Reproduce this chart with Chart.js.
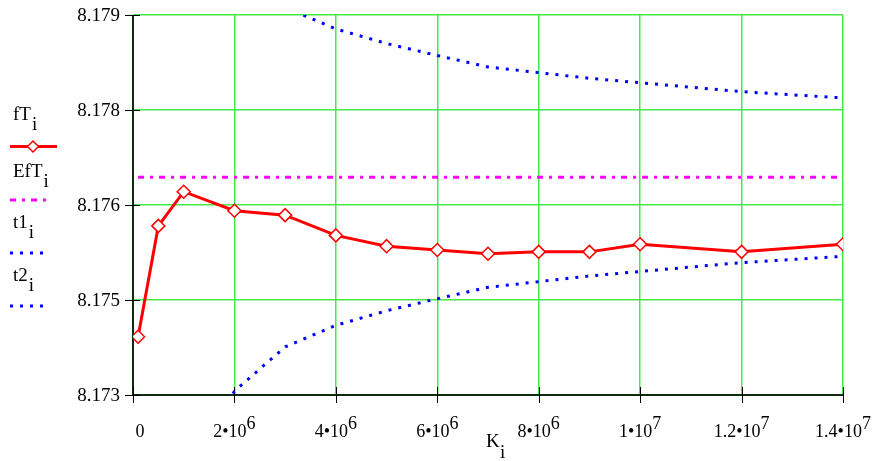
<!DOCTYPE html>
<html>
<head>
<meta charset="utf-8">
<script src="https://cdn.jsdelivr.net/npm/chart.js@4/dist/chart.umd.min.js"></script>
<style>
  html, body { margin: 0; padding: 0; background: #fff; }
  canvas { display: block; }
</style>
</head>
<body>
<canvas id="fChart" width="874" height="461"></canvas>
<script>
// sample sizes K_i and the series
const K = [1e5, 5e5, 1e6, 2e6, 3e6, 4e6, 5e6, 6e6, 7e6, 8e6, 9e6, 1e7, 1.2e7, 1.4e7];
const fT = [8.17392, 8.17567, 8.17621, 8.17591, 8.17584, 8.17552, 8.17535, 8.17529,
            8.17523, 8.17526, 8.17526, 8.17538, 8.17526, 8.17538];
const EfT = [8.17644, 8.17644, 8.17644, 8.17644, 8.17644, 8.17644, 8.17644, 8.17644,
             8.17644, 8.17644, 8.17644, 8.17644, 8.17644, 8.17644];
const t1 = [8.19111, 8.18300, 8.18108, 8.17982, 8.17912, 8.17878, 8.17855, 8.17836,
            8.17818, 8.17809, 8.17800, 8.17793, 8.17779, 8.17769];
const t2 = [8.16177, 8.16988, 8.17180, 8.17306, 8.17376, 8.17410, 8.17433, 8.17452,
            8.17470, 8.17479, 8.17488, 8.17495, 8.17509, 8.17519];

// axis ticks (labels as printed, mantissa + exponent)
const yTickValues = [8.173, 8.1745, 8.176, 8.1775, 8.179];
const yTickLabels = ['8.173', '8.175', '8.176', '8.178', '8.179'];
const xTickValues = [0, 2e6, 4e6, 6e6, 8e6, 1e7, 1.2e7, 1.4e7];
const xTickLabels = [['0', ''], ['2\u202210', '6'], ['4\u202210', '6'], ['6\u202210', '6'],
                     ['8\u202210', '6'], ['1\u202210', '7'], ['1.2\u202210', '7'], ['1.4\u202210', '7']];

const FONT = '19px "Liberation Serif", serif';
const TICK_FONT = '18px "Liberation Serif", serif';
const pts = arr => K.map((k, i) => ({ x: k, y: arr[i] }));

// text with a subscript after it
function subText(ctx, x, y, main, sub) {
    ctx.fillText(main, x, y);
    const w = ctx.measureText(main).width;
    ctx.fillText(sub, x + w + 1, y + 10);
}

const mathcadLook = {
    id: 'mathcadLook',
    beforeDatasetsDraw(chart) {
        const { ctx, chartArea: a, scales: { x, y } } = chart;
        ctx.save();
        // axes
        ctx.strokeStyle = '#0f2a0f';
        ctx.lineWidth = 2;
        ctx.beginPath();
        ctx.moveTo(a.left, a.top);
        ctx.lineTo(a.left, a.bottom);
        ctx.lineTo(a.right, a.bottom);
        ctx.stroke();
        // tick marks crossing the axes
        ctx.strokeStyle = '#000';
        ctx.lineWidth = 1;
        ctx.beginPath();
        yTickValues.forEach(v => {
            const py = Math.round(y.getPixelForValue(v)) + 0.5;
            ctx.moveTo(a.left - 8, py);
            ctx.lineTo(a.left + 7, py);
        });
        xTickValues.forEach(v => {
            const px = Math.round(x.getPixelForValue(v)) + 0.5;
            ctx.moveTo(px, a.bottom - 8);
            ctx.lineTo(px, a.bottom + 8);
        });
        ctx.stroke();
        ctx.restore();
    },
    afterDraw(chart) {
        const { ctx, chartArea: a, scales: { x, y } } = chart;
        ctx.save();
        ctx.fillStyle = '#000';
        ctx.textBaseline = 'alphabetic';
        ctx.font = FONT;

        // y tick labels
        ctx.textAlign = 'right';
        yTickValues.forEach((v, i) => {
            ctx.fillText(yTickLabels[i], a.left - 13, y.getPixelForValue(v) + 6);
        });

        // x tick labels with raised exponent
        ctx.textAlign = 'left';
        ctx.font = TICK_FONT;
        xTickValues.forEach((v, i) => {
            const [m, e] = xTickLabels[i];
            const wm = ctx.measureText(m).width;
            const we = e ? ctx.measureText(e).width : 0;
            let left = x.getPixelForValue(v) - (wm + we) / 2;
            if (i === 0) left += 7;
            ctx.fillText(m, left, 437);
            if (e) ctx.fillText(e, left + wm, 429);
        });

        // axis title K_i
        ctx.font = FONT;
        ctx.fillText('K', 486, 447);
        ctx.fillText('i', 500, 458);

        // legend
        subText(ctx, 13, 120, 'fT', 'i');
        subText(ctx, 13, 177, 'EfT', 'i');
        subText(ctx, 13, 228, 't1', 'i');
        subText(ctx, 13, 281, 't2', 'i');

        ctx.lineWidth = 3;
        ctx.strokeStyle = '#ff0000';
        ctx.beginPath(); ctx.moveTo(10, 146.5); ctx.lineTo(57, 146.5); ctx.stroke();
        ctx.lineWidth = 1.5;
        ctx.fillStyle = '#fff';
        ctx.beginPath();
        ctx.moveTo(33, 141); ctx.lineTo(38.5, 146.5); ctx.lineTo(33, 152); ctx.lineTo(27.5, 146.5);
        ctx.closePath(); ctx.fill(); ctx.stroke();

        ctx.lineWidth = 3;
        ctx.strokeStyle = '#ff00ff';
        ctx.setLineDash([6, 6, 3, 6]);
        ctx.beginPath(); ctx.moveTo(10, 200); ctx.lineTo(50, 200); ctx.stroke();
        ctx.strokeStyle = '#0000ff';
        ctx.setLineDash([3, 7]);
        ctx.beginPath(); ctx.moveTo(10, 253); ctx.lineTo(50, 253); ctx.stroke();
        ctx.beginPath(); ctx.moveTo(10, 306); ctx.lineTo(50, 306); ctx.stroke();
        ctx.restore();
    }
};

const gridStyle = { color: '#45e845', lineWidth: 1.5, drawTicks: false };

const ctx = document.getElementById('fChart').getContext('2d');
const fChart = new Chart(ctx, {
    type: 'line',
    data: {
        datasets: [
            { label: 't1', data: pts(t1), borderColor: '#0000ff', borderWidth: 3,
              borderDash: [3, 7], pointRadius: 0, clip: 0 },
            { label: 't2', data: pts(t2), borderColor: '#0000ff', borderWidth: 3,
              borderDash: [3, 7], pointRadius: 0, clip: 0 },
            { label: 'EfT', data: pts(EfT), borderColor: '#ff00ff', borderWidth: 3,
              borderDash: [6, 6, 3, 6], pointRadius: 0, clip: 0 },
            { label: 'fT', data: pts(fT), borderColor: '#ff0000', borderWidth: 3,
              pointStyle: 'rectRot', pointRadius: 6.5, pointBorderWidth: 1.5,
              pointBackgroundColor: '#fff', pointBorderColor: '#ff0000', clip: 0 }
        ]
    },
    options: {
        responsive: false,
        animation: false,
        layout: { padding: { left: 133, right: 31, top: 15, bottom: 66 } },
        plugins: { legend: { display: false }, tooltip: { enabled: false } },
        scales: {
            x: {
                type: 'linear', min: 0, max: 1.4e7,
                afterBuildTicks: s => { s.ticks = xTickValues.map(v => ({ value: v })); },
                ticks: { display: false },
                grid: gridStyle,
                border: { display: false }
            },
            y: {
                min: 8.173, max: 8.179,
                afterBuildTicks: s => { s.ticks = yTickValues.map(v => ({ value: v })); },
                ticks: { display: false },
                grid: gridStyle,
                border: { display: false }
            }
        }
    },
    plugins: [mathcadLook]
});
</script>
</body>
</html>
